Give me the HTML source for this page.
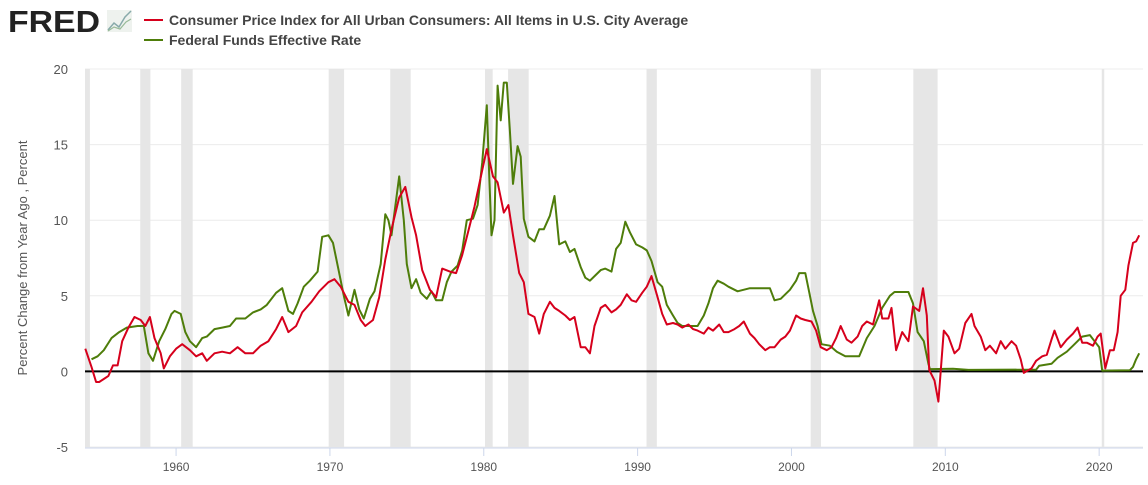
<!DOCTYPE html>
<html><head><meta charset="utf-8"><style>
body{margin:0;background:#fff;width:1148px;height:480px;overflow:hidden;font-family:"Liberation Sans","DejaVu Sans",sans-serif}
svg text{font-family:"Liberation Sans","DejaVu Sans",sans-serif}
</style></head><body>
<svg id="chart" width="1148" height="480" xmlns="http://www.w3.org/2000/svg">
<g>
<text x="8" y="32" font-size="31" font-weight="bold" fill="#222" textLength="92" lengthAdjust="spacingAndGlyphs">FRED</text>
<rect x="107" y="10" width="25" height="22" fill="#eef2ee"/>
<polyline points="108,30 114,23 119,27 125,17 131,11" fill="none" stroke="#8aa" stroke-width="1.5"/>
<polyline points="108,31 114,27 120,29 126,22 131,19" fill="none" stroke="#9b9" stroke-width="1.2"/>
</g>
<g>
<line x1="144" y1="20" x2="163" y2="20" stroke="#d6001c" stroke-width="2"/>
<text x="169" y="25" font-size="14" font-weight="bold" fill="#444">Consumer Price Index for All Urban Consumers: All Items in U.S. City Average</text>
<line x1="144" y1="40" x2="163" y2="40" stroke="#4e7d0a" stroke-width="2"/>
<text x="169" y="45" font-size="14" font-weight="bold" fill="#444">Federal Funds Effective Rate</text>
</g>
<text transform="translate(27,258) rotate(-90)" text-anchor="middle" font-size="13" fill="#555">Percent Change from Year Ago , Percent</text>
<g id="plot"></g>
</svg>
<script>
const cpiT=[1954.1,1954.5,1954.8,1955.0,1955.3,1955.6,1955.9,1956.2,1956.5,1956.9,1957.3,1957.7,1958.0,1958.3,1958.6,1959.0,1959.2,1959.6,1960.0,1960.4,1960.9,1961.3,1961.7,1962.0,1962.5,1963.0,1963.5,1964.0,1964.5,1965.0,1965.5,1966.0,1966.5,1966.9,1967.3,1967.8,1968.2,1968.8,1969.3,1969.9,1970.3,1970.7,1971.2,1971.6,1972.0,1972.3,1972.8,1973.2,1973.6,1974.0,1974.5,1974.9,1975.3,1975.6,1976.0,1976.5,1976.9,1977.3,1977.8,1978.2,1978.6,1979.0,1979.4,1979.9,1980.2,1980.6,1980.9,1981.3,1981.6,1981.9,1982.3,1982.6,1982.9,1983.3,1983.6,1983.9,1984.3,1984.6,1984.9,1985.3,1985.6,1985.9,1986.3,1986.6,1986.9,1987.2,1987.6,1987.9,1988.3,1988.6,1988.9,1989.3,1989.6,1989.9,1990.3,1990.6,1990.9,1991.3,1991.6,1991.9,1992.3,1992.6,1992.9,1993.3,1993.6,1993.9,1994.3,1994.6,1994.9,1995.3,1995.6,1995.9,1996.3,1996.6,1996.9,1997.3,1997.6,1997.9,1998.3,1998.6,1998.9,1999.3,1999.6,1999.9,2000.3,2000.6,2000.9,2001.3,2001.6,2001.9,2002.3,2002.6,2002.9,2003.2,2003.6,2003.9,2004.3,2004.6,2004.9,2005.3,2005.7,2005.9,2006.3,2006.5,2006.8,2007.2,2007.6,2007.9,2008.3,2008.55,2008.8,2008.95,2009.3,2009.55,2009.9,2010.2,2010.6,2010.9,2011.3,2011.7,2011.9,2012.3,2012.6,2012.9,2013.3,2013.6,2013.9,2014.3,2014.6,2014.9,2015.1,2015.6,2015.9,2016.3,2016.6,2016.9,2017.1,2017.5,2017.9,2018.3,2018.6,2018.9,2019.2,2019.6,2019.9,2020.1,2020.4,2020.7,2020.95,2021.2,2021.4,2021.7,2021.9,2022.2,2022.4,2022.6];
const cpiV=[1.5,0.3,-0.7,-0.7,-0.5,-0.3,0.4,0.4,2.0,2.9,3.6,3.4,3.0,3.6,2.2,1.2,0.2,1.0,1.5,1.8,1.4,1.0,1.2,0.7,1.2,1.3,1.2,1.6,1.2,1.2,1.7,2.0,2.8,3.6,2.6,3.0,3.9,4.6,5.3,5.9,6.1,5.6,4.6,4.4,3.4,3.0,3.4,4.9,7.4,9.4,11.5,12.2,10.2,9.0,6.7,5.4,4.9,6.8,6.6,6.5,7.7,9.3,10.9,13.3,14.7,12.9,12.5,10.5,11.0,9.0,6.5,5.9,3.8,3.6,2.5,3.8,4.6,4.2,4.0,3.7,3.4,3.6,1.6,1.6,1.2,3.0,4.2,4.4,3.9,4.1,4.4,5.1,4.7,4.6,5.2,5.6,6.3,4.9,3.8,3.1,3.2,3.1,2.9,3.1,2.8,2.7,2.5,2.9,2.7,3.1,2.6,2.6,2.8,3.0,3.3,2.5,2.2,1.8,1.4,1.6,1.6,2.1,2.3,2.7,3.7,3.5,3.4,3.3,2.7,1.6,1.4,1.6,2.2,3.0,2.1,1.9,2.3,3.0,3.3,3.1,4.7,3.5,3.5,4.2,1.4,2.6,2.0,4.3,4.0,5.5,3.7,0.1,-0.6,-2.0,2.7,2.3,1.2,1.5,3.2,3.8,3.0,2.3,1.4,1.7,1.2,2.0,1.5,2.0,1.7,0.8,-0.1,0.2,0.7,1.0,1.1,2.1,2.7,1.6,2.1,2.5,2.9,1.9,1.9,1.7,2.3,2.5,0.2,1.4,1.4,2.6,5.0,5.4,7.0,8.5,8.6,9.0];
const ffT=[1954.5,1954.9,1955.3,1955.8,1956.3,1956.8,1957.5,1957.9,1958.2,1958.5,1958.9,1959.3,1959.7,1959.9,1960.3,1960.6,1960.9,1961.3,1961.7,1962.0,1962.5,1963.0,1963.5,1963.9,1964.5,1965.0,1965.5,1965.9,1966.5,1966.9,1967.3,1967.6,1967.9,1968.3,1968.7,1969.2,1969.5,1969.9,1970.2,1970.6,1970.9,1971.2,1971.6,1971.9,1972.2,1972.6,1972.9,1973.3,1973.6,1973.8,1974.0,1974.5,1974.8,1975.0,1975.3,1975.6,1975.9,1976.3,1976.6,1976.9,1977.3,1977.6,1977.9,1978.3,1978.6,1978.9,1979.3,1979.6,1979.9,1980.2,1980.35,1980.5,1980.7,1980.9,1981.1,1981.3,1981.5,1981.7,1981.9,1982.2,1982.4,1982.6,1982.9,1983.3,1983.6,1983.9,1984.3,1984.6,1984.9,1985.3,1985.6,1985.9,1986.3,1986.6,1986.9,1987.3,1987.6,1987.9,1988.3,1988.6,1988.9,1989.2,1989.5,1989.9,1990.3,1990.6,1990.9,1991.3,1991.6,1991.9,1992.3,1992.6,1992.9,1993.5,1993.9,1994.3,1994.6,1994.9,1995.2,1995.6,1995.9,1996.5,1997.3,1997.9,1998.6,1998.9,1999.3,1999.9,2000.3,2000.5,2000.9,2001.1,2001.4,2001.7,2001.95,2002.5,2002.95,2003.5,2004.4,2004.9,2005.4,2005.9,2006.4,2006.7,2007.6,2007.9,2008.2,2008.6,2008.9,2009.0,2010.5,2011.5,2015.9,2016.1,2016.9,2017.3,2017.9,2018.3,2018.9,2019.4,2019.7,2020.0,2020.2,2022.0,2022.2,2022.4,2022.6];
const ffV=[0.8,1.0,1.4,2.2,2.6,2.9,3.0,3.0,1.2,0.7,2.0,2.8,3.8,4.0,3.8,2.6,2.0,1.6,2.2,2.3,2.8,2.9,3.0,3.5,3.5,3.9,4.1,4.4,5.2,5.5,4.0,3.8,4.5,5.6,6.0,6.6,8.9,9.0,8.5,6.5,5.0,3.7,5.4,4.1,3.5,4.8,5.3,7.1,10.4,10.0,9.0,12.9,10.0,7.1,5.5,6.1,5.2,4.8,5.3,4.7,4.7,5.9,6.6,7.0,8.0,10.0,10.1,11.0,13.8,17.6,13.0,9.0,10.0,18.9,16.6,19.1,19.1,15.9,12.4,14.9,14.2,10.1,8.9,8.6,9.4,9.4,10.3,11.6,8.4,8.6,7.9,8.1,6.9,6.2,6.0,6.4,6.7,6.8,6.6,8.1,8.5,9.9,9.2,8.4,8.2,8.0,7.3,5.9,5.6,4.4,3.7,3.2,3.0,3.0,3.0,3.7,4.5,5.5,6.0,5.8,5.6,5.3,5.5,5.5,5.5,4.7,4.8,5.4,6.0,6.5,6.5,5.5,4.0,3.0,1.8,1.7,1.3,1.0,1.0,2.2,3.0,4.2,5.0,5.25,5.25,4.5,2.6,2.0,0.5,0.15,0.18,0.1,0.12,0.38,0.5,0.9,1.3,1.7,2.3,2.4,2.0,1.6,0.05,0.08,0.3,0.8,1.2];
const recStart=[1953.6,1957.67,1960.33,1969.92,1973.92,1980.08,1981.58,1990.58,2001.25,2007.92,2020.17];
const recEnd=[1954.4,1958.33,1961.08,1970.92,1975.25,1980.58,1982.92,1991.25,2001.92,2009.5,2020.33];
const yTicks=[-5,0,5,10,15,20];
const xTicks=[1960,1970,1980,1990,2000,2010,2020];
const X0=85,X1=1143,Y0=69,Y1=447,xMin=1954.08,xMax=2022.85,yMin=-5,yMax=20;
const xs=t=>X0+(t-xMin)/(xMax-xMin)*(X1-X0);
const ys=v=>Y1-(v-yMin)/(yMax-yMin)*(Y1-Y0);
const NS='http://www.w3.org/2000/svg';
const g=document.getElementById('plot');
function mk(tag,attrs){const e=document.createElementNS(NS,tag);for(const k in attrs)e.setAttribute(k,attrs[k]);g.appendChild(e);return e;}
for(const v of yTicks){
 const l=mk('line',{x1:X0,x2:X1,y1:ys(v),y2:ys(v),stroke:'#ececec','stroke-width':1});
 
 
 const t=mk('text',{x:68,y:ys(v)+5,'text-anchor':'end','font-size':13,fill:'#555'});
 t.textContent=v;
 
 
}
for(let i=0;i<recStart.length;i++){
 const a=Math.max(X0,xs(recStart[i])),b=Math.min(X1,xs(recEnd[i]));
 const r=mk('rect',{x:a,y:Y0,width:b-a,height:Y1-Y0,fill:'#e6e6e6'});
 
 
}
const ax=mk('line',{x1:X0,x2:X1,y1:Y1+1,y2:Y1+1,stroke:'#ccd6eb','stroke-width':1});


for(const v of xTicks){
 const tk=mk('line',{x1:xs(v),x2:xs(v),y1:Y1+1,y2:Y1+9,stroke:'#ccd6eb'});
 
 
 const t=mk('text',{x:xs(v),y:471,'text-anchor':'middle','font-size':12,fill:'#555'});
 t.textContent=v;
 
 
}
const z=mk('line',{x1:X0,x2:X1,y1:ys(0),y2:ys(0),stroke:'#000','stroke-width':2});


function path(T,V,c,name){
 const d=T.map((t,i)=>(i?'L':'M')+xs(t).toFixed(1)+','+ys(V[i]).toFixed(1)).join('');
 const p=mk('path',{d:d,fill:'none',stroke:c,'stroke-width':2,'stroke-linejoin':'round'});
 
 
}
path(ffT,ffV,'#4e7d0a','fedfunds-line');
path(cpiT,cpiV,'#d6001c','cpi-line');
</script>
</body></html>
